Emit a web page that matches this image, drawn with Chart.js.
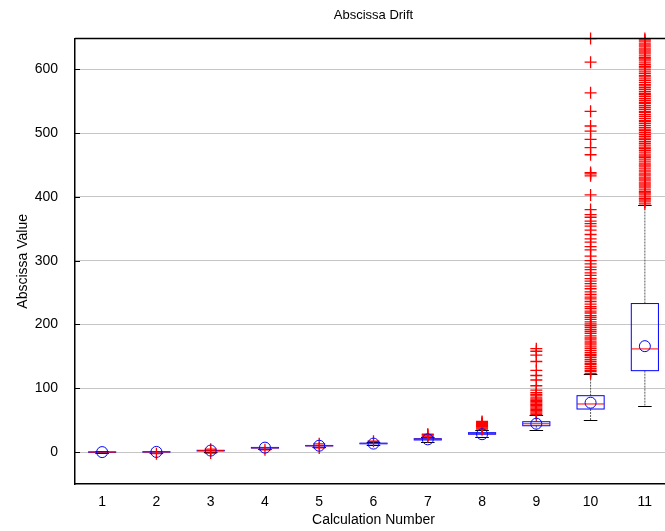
<!DOCTYPE html>
<html>
<head>
<meta charset="utf-8">
<script src="https://cdn.jsdelivr.net/npm/chart.js@4/dist/chart.umd.min.js"></script>
<style>
  html, body { margin: 0; padding: 0; background: #fff; overflow: hidden; }
</style>
</head>
<body>
<canvas id="chart" width="690" height="531"></canvas>
<script>
// calculation numbers along the x axis
const calcNumbers = ['1', '2', '3', '4', '5', '6', '7', '8', '9', '10', '11'];

// box statistics per calculation
const q1 = [-0.3, 0.0, 1.8, 6.3, 9.6, 13.0, 19.0, 28.0, 41.3, 67.5, 127.6];
const medians = [0.0, 0.3, 2.3, 6.8, 10.0, 13.5, 20.0, 29.0, 44.4, 75.4, 161.7];
const q3 = [0.3, 0.6, 2.8, 7.3, 10.4, 14.0, 21.0, 30.4, 47.6, 88.4, 232.8];
const lowerWhisker = [-1.0, -1.2, 0.6, 5.2, 8.3, 11.2, 16.5, 24.0, 35.0, 50.0, 73.0];
const upperWhisker = [1.0, 1.8, 4.0, 8.6, 11.8, 16.0, 23.0, 35.0, 58.0, 122.0, 388.0];
const means = [0.0, 0.3, 2.4, 7.0, 10.0, 13.3, 20.0, 28.0, 44.5, 77.4, 166.0];

// values flagged as outliers for each calculation
const outliers = [
  [],
  [-2.5],
  [-1.5, 4.5],
  [3.5],
  [6.5, 13.0],
  [17.0],
  [24, 25.5, 27, 28],
  [36, 37.5, 39, 40.5, 42, 43.5, 45, 46.5, 48],
  [59, 61, 63, 65, 67, 69, 71, 73, 75, 77, 79, 81, 83, 85, 88, 90, 93, 97,
   104, 113, 120, 128, 142, 152, 158, 162],
  [123, 126, 128, 131, 134, 137, 139, 142, 145, 148, 151, 153, 156, 159, 162,
   165, 168, 171, 174, 177, 179, 182, 186, 189, 192, 195, 198, 201, 204, 208,
   211, 214, 218, 221, 225, 228, 232, 236, 240, 243, 247, 251, 256, 260, 264,
   268, 272, 277, 281, 286, 290, 295, 300, 307, 317, 322, 329, 334, 341, 348,
   354, 358, 362, 368, 372, 380, 403, 433, 436, 438, 466, 477, 490, 503, 511,
   534, 563, 611, 648],
  [389, 392, 395, 397, 400, 403, 406, 408, 411, 414, 417, 420, 422, 425, 428,
   431, 434, 436, 439, 442, 445, 448, 450, 453, 456, 459, 462, 464, 467, 470,
   473, 476, 478, 481, 484, 487, 490, 492, 495, 498, 501, 504, 506, 509, 512,
   515, 518, 520, 523, 526, 529, 532, 534, 537, 540, 543, 546, 548, 551, 554,
   557, 560, 562, 565, 568, 571, 574, 576, 579, 582, 585, 588, 590, 593, 596,
   599, 602, 604, 607, 610, 613, 616, 618, 621, 624, 627, 630, 632, 635, 638,
   641, 644, 646, 648]
];

const yTicks = [0, 100, 200, 300, 400, 500, 600];

Chart.defaults.font.family = '"Liberation Sans", Arial, sans-serif';
Chart.defaults.color = '#000';

// boxes, whiskers and medians drawn under the point datasets
const boxPlot = {
  id: 'boxPlot',
  beforeDatasetsDraw(chart) {
    const { ctx, scales: { x, y } } = chart;
    ctx.save();
    ctx.lineWidth = 1;
    calcNumbers.forEach((c, i) => {
      const cx = x.getPixelForValue(i + 1);
      const half = x.getPixelForValue(i + 1.25) - cx;
      const cap = x.getPixelForValue(i + 1.125) - cx;

      // whiskers
      ctx.strokeStyle = '#5a5a5a';
      ctx.setLineDash([2, 1]);
      ctx.beginPath();
      ctx.moveTo(cx, y.getPixelForValue(q3[i]));
      ctx.lineTo(cx, y.getPixelForValue(upperWhisker[i]));
      ctx.moveTo(cx, y.getPixelForValue(q1[i]));
      ctx.lineTo(cx, y.getPixelForValue(lowerWhisker[i]));
      ctx.stroke();
      ctx.setLineDash([]);

      // whisker caps
      ctx.strokeStyle = '#000';
      ctx.beginPath();
      [upperWhisker[i], lowerWhisker[i]].forEach(v => {
        const py = Math.round(y.getPixelForValue(v)) + 0.5;
        ctx.moveTo(cx - cap, py);
        ctx.lineTo(cx + cap, py);
      });
      ctx.stroke();

      // box
      const top = y.getPixelForValue(q3[i]);
      const bottom = y.getPixelForValue(q1[i]);
      ctx.strokeStyle = '#0000ff';
      ctx.strokeRect(cx - half, top, half * 2, bottom - top);

      // median
      const my = y.getPixelForValue(medians[i]);
      ctx.strokeStyle = '#ff0000';
      ctx.beginPath();
      ctx.moveTo(cx - half, my);
      ctx.lineTo(cx + half, my);
      ctx.stroke();
    });
    ctx.restore();
  },
  afterDraw(chart) {
    const { ctx, chartArea, scales: { y } } = chart;
    ctx.save();
    ctx.strokeStyle = '#000';
    // top frame line
    ctx.lineWidth = 1.5;
    ctx.beginPath();
    ctx.moveTo(chartArea.left, chartArea.top);
    ctx.lineTo(chartArea.right, chartArea.top);
    ctx.stroke();
    // inward tick marks on the y axis
    ctx.lineWidth = 1;
    ctx.beginPath();
    yTicks.forEach(v => {
      const py = Math.round(y.getPixelForValue(v)) + 0.5;
      ctx.moveTo(chartArea.left, py);
      ctx.lineTo(chartArea.left + 5, py);
    });
    ctx.stroke();
    ctx.restore();
  }
};

const outlierPoints = outliers.flatMap((vals, i) => vals.map(v => ({ x: i + 1, y: v })));
const meanPoints = means.map((v, i) => ({ x: i + 1, y: v }));

new Chart(document.getElementById('chart'), {
  type: 'scatter',
  data: {
    datasets: [
      {
        label: 'Mean',
        data: meanPoints,
        pointStyle: 'circle',
        pointRadius: 5.5,
        borderColor: '#0000ff',
        backgroundColor: 'rgba(0,0,0,0)',
        borderWidth: 1,
        clip: false,
        order: 0
      },
      {
        label: 'Outliers',
        data: outlierPoints,
        pointStyle: 'cross',
        pointRadius: 6,
        borderColor: '#ff0000',
        borderWidth: 1.3,
        clip: false,
        order: 1
      }
    ]
  },
  options: {
    responsive: false,
    animation: false,
    devicePixelRatio: 1,
    layout: { padding: { left: 0, right: 18, top: 0, bottom: 0 } },
    plugins: {
      legend: { display: false },
      tooltip: { enabled: false },
      title: {
        display: true,
        text: 'Abscissa Drift',
        fullSize: false,
        color: '#000',
        font: { size: 13, weight: 'normal' },
        padding: { top: 8, bottom: 15 }
      }
    },
    scales: {
      x: {
        type: 'linear',
        min: 0.5,
        max: 11.5,
        afterBuildTicks: s => { s.ticks = calcNumbers.map((c, i) => ({ value: i + 1 })); },
        afterFit: s => { s.height = 47; },
        ticks: {
          callback: v => calcNumbers[v - 1],
          font: { size: 14 },
          padding: 10,
          maxRotation: 0
        },
        grid: { display: false, drawTicks: false },
        border: { display: true, color: '#000', width: 1.5 },
        title: {
          display: true,
          text: 'Calculation Number',
          font: { size: 14 },
          padding: { top: 0, bottom: 2 }
        }
      },
      y: {
        min: -50,
        max: 648,
        afterBuildTicks: s => { s.ticks = yTicks.map(v => ({ value: v })); },
        afterFit: s => { s.width = 75; },
        ticks: { font: { size: 14 }, padding: 17 },
        grid: { color: '#8a8a8a', lineWidth: 1, drawTicks: false },
        border: { display: true, color: '#000', width: 1.5, dash: [1, 1] },
        title: {
          display: true,
          text: 'Abscissa Value',
          font: { size: 14 },
          padding: { top: 15, bottom: 0 }
        }
      }
    }
  },
  plugins: [boxPlot]
});
</script>
</body>
</html>
